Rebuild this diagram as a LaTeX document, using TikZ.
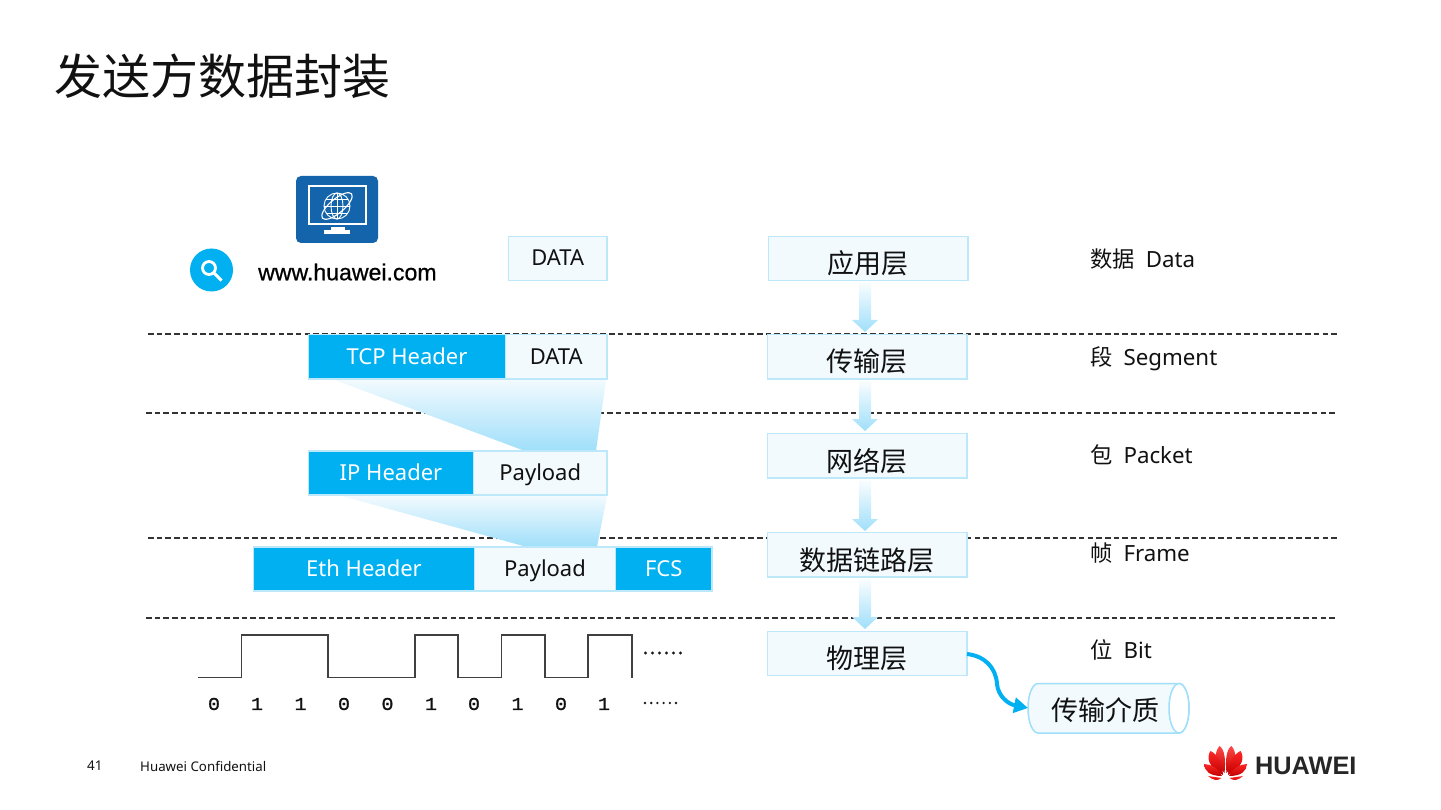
\documentclass[tikz,border=0pt]{standalone}
\usepackage{fontspec}
\usetikzlibrary{arrows.meta,shapes.geometric}
\setmainfont{Noto Sans}
\newfontfamily\cjk{Noto Sans CJK SC}
\newfontfamily\arl[FakeBold=0.7]{Liberation Sans}
\newfontfamily\lsb{Liberation Sans}
\newfontfamily\mon[FakeBold=1.0,FakeStretch=1.12]{Liberation Mono}
\definecolor{hblue}{HTML}{00B0F0}
\definecolor{hpale}{HTML}{F2FAFE}
\definecolor{hedge}{HTML}{BDE8FA}
\definecolor{hgrad}{HTML}{9FDFFA}
\definecolor{htxt}{HTML}{111111}
\definecolor{hicon}{HTML}{1464AC}
\tikzset{
  x=1pt,y=-1pt,
  cellbox/.style={draw=hedge,line width=1.6pt,outer sep=0pt,fill=hpale,inner sep=0,anchor=north west,text=htxt,text height=19pt,text depth=4pt,font=\fontsize{22}{24}\selectfont},
  headbox/.style={cellbox,fill=hblue,text=white},
  layerbox/.style={draw=hedge,line width=1.6pt,outer sep=0pt,fill=hpale,inner sep=0,anchor=north west,minimum width=199.5pt,text=htxt,text height=30.5pt,text depth=0pt,font=\cjk\fontsize{27}{30}\selectfont},
  unit/.style={anchor=west,inner sep=0,text=htxt,text height=16pt,text depth=4pt,font=\fontsize{22.3}{24}\selectfont},
  sep/.style={dashed,dash pattern=on 5.5pt off 3.2pt,line width=1.5pt,draw=black!80},
  wave/.style={draw=black!75,line width=1.5pt},
  bit/.style={inner sep=0,font=\mon\fontsize{18}{20}\selectfont,text=htxt},
  fade/.style={top color=hpale,bottom color=hgrad,draw=none},
  arrowfade/.style={top color=hpale!40!white,bottom color=hgrad,draw=none},
  petalA/.style={top color=red!72!white,bottom color=red!78!black,draw=none},
  petalB/.style={top color=red!85!white,bottom color=red!75!black,draw=none},
}
\newcommand{\blockarrow}[2]{\path[arrowfade] (859,#1) -- (871,#1) -- (871,#2-12) -- (878,#2-12) -- (865,#2) -- (852,#2-12) -- (859,#2-12) -- cycle;}
\begin{document}
\begin{tikzpicture}
\useasboundingbox (0,0) rectangle (1441,810);
\fill[white] (0,0) rectangle (1441,810);
% title
\node[anchor=west,inner sep=0,font=\cjk\fontsize{48}{52}\selectfont,text=htxt] (title) at (54,76) {发送方数据封装};
% separators
\coordinate (s1a) at (148,334); \coordinate (s1b) at (1339,334);
\coordinate (s2a) at (146,413); \coordinate (s2b) at (1337,413);
\coordinate (s3a) at (148,538); \coordinate (s3b) at (1339,538);
\coordinate (s4a) at (146,618); \coordinate (s4b) at (1337,618);
\draw[sep] (s1a) -- (s1b);
\draw[sep] (s2a) -- (s2b);
\draw[sep] (s3a) -- (s3b);
\draw[sep] (s4a) -- (s4b);
% trapezoids
\path[fade] (335,380) -- (606,380) -- (596,451) -- (525,451) -- cycle;
\path[fade] (342,496) -- (607,496) -- (597,547) -- (527,547) -- cycle;
% icon
\fill[hicon,rounded corners=5pt] (296,176) rectangle (378,243);
\draw[white,line width=2pt] (308.5,186) rectangle (366,224);
\fill[white] (331,227.5) rectangle (345,230.5);
\fill[white] (324,230.5) rectangle (349.5,234);
\begin{scope}[white,line width=0.9pt]
\draw (337,206) circle (13);
\draw (337,206) ellipse (6 and 13);
\draw (324,206) -- (350,206);
\draw (326,199) -- (348,199);
\draw (326,213) -- (348,213);
\draw (337,193) -- (337,219);
\draw[rotate around={40:(337,206)},line width=1.1pt] (337,206) ellipse (19 and 7);
\end{scope}
% search
\fill[hblue] (211.5,270) circle (21.5);
\draw[white,line width=2.8pt] (209,268) circle (6.5);
\draw[white,line width=3pt] (214,273) -- (221.5,280.5);
\node[anchor=west,inner sep=0,font=\arl\fontsize{23.1}{25}\selectfont,text=black] (url) at (258,272) {www.huawei.com};
% packet cells
\node[cellbox,minimum width=98.5pt,minimum height=44pt] (d0) at (508.5,236.5) {DATA};
\node[headbox,minimum width=197pt,minimum height=44.5pt] (tcp) at (308.5,334.5) {TCP Header};
\node[cellbox,minimum width=101.5pt,minimum height=44.5pt] (d1) at (505.5,334.5) {DATA};
\node[headbox,minimum width=165pt,minimum height=44pt] (iph) at (308.5,451) {IP Header};
\node[cellbox,minimum width=133.5pt,minimum height=44pt] (pl1) at (473.5,451) {Payload};
\node[headbox,minimum width=221pt,minimum height=44pt] (eth) at (253.5,547) {Eth Header};
\node[cellbox,minimum width=141pt,minimum height=44pt] (pl2) at (474.5,547) {Payload};
\node[headbox,minimum width=96.5pt,minimum height=44pt] (fcs) at (615.5,547) {FCS};
% layer boxes
\node[layerbox,minimum height=44pt] (l1) at (768.5,236.5) {应用层};
\node[layerbox,minimum height=44.5pt] (l2) at (767.5,334.5) {传输层};
\node[layerbox,minimum height=44.5pt] (l3) at (767.5,433.5) {网络层};
\node[layerbox,minimum height=44.5pt] (l4) at (767.5,532.5) {数据链路层};
\node[layerbox,minimum height=44pt] (l5) at (767.5,631.5) {物理层};
% block arrows
\blockarrow{282}{332}
\blockarrow{381}{431}
\blockarrow{480}{531}
\blockarrow{579}{629}
% units
\node[unit] (u1) at (1090,261.5) {{\cjk 数据}\hspace{11pt}Data};
\node[unit] (u2) at (1090,359.5) {{\cjk 段}\hspace{11pt}Segment};
\node[unit] (u3) at (1090,457.5) {{\cjk 包}\hspace{11pt}Packet};
\node[unit] (u4) at (1090,555.5) {{\cjk 帧}\hspace{11pt}Frame};
\node[unit] (u5) at (1090,652.5) {{\cjk 位}\hspace{11pt}Bit};
% waveform
\draw[wave] (198,677.5) -- (241.5,677.5) -- (241.5,635) -- (328,635) -- (328,677.5) -- (415,677.5) -- (415,635) -- (458,635) -- (458,677.5) -- (501.5,677.5) -- (501.5,635) -- (545,635) -- (545,677.5) -- (588,677.5) -- (588,635) -- (632,635) -- (632,677.5);
\node[bit] (b0) at (214,704) {0};
\node[bit] (b1) at (257,704) {1};
\node[bit] (b2) at (300.5,704) {1};
\node[bit] (b3) at (344,704) {0};
\node[bit] (b4) at (387.5,704) {0};
\node[bit] (b5) at (431,704) {1};
\node[bit] (b6) at (474,704) {0};
\node[bit] (b7) at (517.5,704) {1};
\node[bit] (b8) at (561,704) {0};
\node[bit] (b9) at (604,704) {1};
\foreach \px in {0,...,5} {
  \fill[black!90] (645.5+\px*7,653) circle (1.6);
  \fill[black!90] (645+\px*6.2,703) circle (1.3);
}
% cylinder
\draw[draw=hgrad,line width=1.5pt,fill=hpale] (1179,683.5) -- (1038,683.5) arc[start angle=90,end angle=270,x radius=10,y radius=-24.75] -- (1179,733) arc[start angle=-90,end angle=90,x radius=10,y radius=-24.75];
\draw[draw=hgrad,line width=1.5pt,fill=white] (1179,708.25) ellipse (10 and 24.75);
\node[inner sep=0,font=\cjk\fontsize{27}{30}\selectfont,text=htxt] (medium) at (1105,710) {传输介质};
\coordinate (mediumin) at (1028,708);
\coordinate (l5out) at (967,654);
\draw[hblue,line width=4pt,-{Triangle[length=14pt,width=15pt]}] (l5out) .. controls (985,656) and (996,668) .. (997,684) .. controls (998,696) and (1008,704) .. (mediumin);
% footer
\node[anchor=west,inner sep=0,font=\fontsize{13.4}{15}\selectfont,text=htxt] (pg) at (87,766) {41};
\node[anchor=west,inner sep=0,font=\fontsize{13.3}{15}\selectfont,text=htxt] (conf) at (140,766) {Huawei Confidential};
% logo
\foreach \s in {-1,1} {
  \path[petalA] (1225.5+\s*1,773) .. controls (1225.5+\s*11,764) and (1225.5+\s*12,753) .. (1225.5+\s*6,746) .. controls (1225.5+\s*1,749) and (1225.5+\s*-0.5,760) .. (1225.5+\s*1,773) -- cycle;
  \path[petalB] (1225.5+\s*2.5,775) .. controls (1225.5+\s*18,767) and (1225.5+\s*19,757) .. (1225.5+\s*15,751) .. controls (1225.5+\s*8,754) and (1225.5+\s*3,764) .. (1225.5+\s*2.5,775) -- cycle;
  \path[petalB] (1225.5+\s*3.5,776) .. controls (1225.5+\s*16,776) and (1225.5+\s*21,771) .. (1225.5+\s*21.5,764) .. controls (1225.5+\s*14,764) and (1225.5+\s*7,769) .. (1225.5+\s*3.5,776) -- cycle;
  \path[petalB] (1225.5+\s*4,778) .. controls (1225.5+\s*8,781.5) and (1225.5+\s*13,780) .. (1225.5+\s*17.5,776) -- (1225.5+\s*4,778) -- cycle;
}
\node[anchor=west,inner sep=0,font=\lsb\bfseries\fontsize{25.3}{26}\selectfont,text=black!85] (hw) at (1255,765.5) {HUAWEI};
\end{tikzpicture}
\end{document}
